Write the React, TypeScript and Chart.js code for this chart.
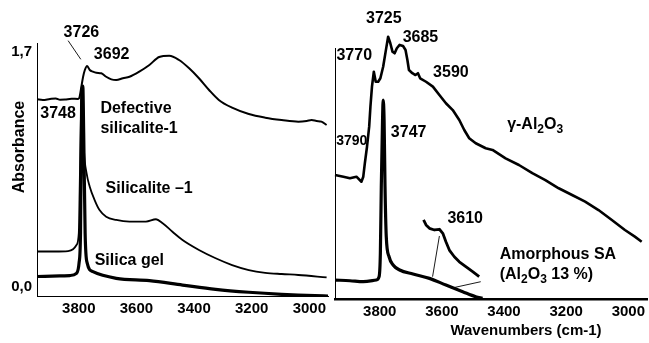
import { useEffect, useRef } from 'react';
import { Chart, registerables } from 'chart.js';

Chart.register(...registerables);

const FONT = '"Liberation Sans", Arial, Helvetica, sans-serif';

// ---------- Left panel data (wavenumber cm-1 / absorbance) ----------
const defectiveWn = [3945, 3925, 3900, 3880, 3865, 3848, 3825, 3802, 3797, 3791, 3785, 3779, 3771, 3762, 3751, 3739, 3722, 3705, 3687, 3670, 3647, 3624, 3590, 3555, 3521, 3486, 3452, 3417, 3383, 3348, 3314, 3268, 3210, 3153, 3096, 3038, 3009, 2992, 2975, 2958, 2940];
const defectiveAbs = [1.358, 1.353, 1.360, 1.364, 1.355, 1.356, 1.362, 1.360, 1.377, 1.449, 1.521, 1.570, 1.599, 1.570, 1.558, 1.550, 1.546, 1.521, 1.502, 1.497, 1.510, 1.521, 1.558, 1.606, 1.664, 1.673, 1.642, 1.582, 1.510, 1.425, 1.353, 1.297, 1.251, 1.225, 1.208, 1.196, 1.201, 1.208, 1.201, 1.196, 1.172];

const silicaliteWn = [3945, 3883, 3837, 3820, 3808, 3800, 3797, 3793, 3790, 3785, 3782, 3773, 3762, 3745, 3728, 3705, 3670, 3624, 3567, 3532, 3509, 3475, 3440, 3383, 3325, 3268, 3210, 3153, 3096, 3038, 2940];
const silicaliteAbs = [0.257, 0.257, 0.260, 0.273, 0.304, 0.388, 0.702, 1.186, 1.400, 1.184, 0.991, 0.823, 0.726, 0.629, 0.557, 0.509, 0.485, 0.473, 0.473, 0.490, 0.461, 0.400, 0.340, 0.268, 0.208, 0.159, 0.123, 0.103, 0.094, 0.087, 0.070];

const silicaGelWn = [3945, 3866, 3831, 3808, 3799, 3794, 3790, 3786, 3783, 3778, 3771, 3751, 3670, 3555, 3440, 3325, 3210, 3096, 2980, 2935];
const silicaGelAbs = [0.076, 0.080, 0.083, 0.099, 0.174, 0.391, 1.353, 1.454, 1.114, 0.391, 0.174, 0.111, 0.063, 0.046, 0.014, -0.017, -0.038, -0.053, -0.063, -0.065];

const leftCalloutWn = [3837, 3793];
const leftCalloutAbs = [1.782, 1.647];

// ---------- Right panel data ----------
const gammaWn = [3944, 3917, 3896, 3875, 3859, 3853, 3848, 3841, 3834, 3830, 3825, 3819, 3813, 3805, 3798, 3789, 3781, 3773, 3766, 3759, 3752, 3745, 3736, 3725, 3717, 3711, 3706, 3695, 3685, 3677, 3670, 3651, 3629, 3608, 3587, 3565, 3544, 3528, 3512, 3491, 3459, 3437, 3395, 3352, 3309, 3267, 3224, 3181, 3139, 3096, 3053, 3011, 2979, 2957];
const gammaAbs = [0.889, 0.877, 0.866, 0.877, 0.841, 0.877, 0.973, 1.092, 1.236, 1.379, 1.523, 1.630, 1.558, 1.558, 1.583, 1.666, 1.774, 1.881, 1.834, 1.774, 1.762, 1.798, 1.822, 1.814, 1.786, 1.714, 1.642, 1.619, 1.606, 1.619, 1.583, 1.558, 1.523, 1.463, 1.404, 1.355, 1.284, 1.212, 1.153, 1.117, 1.081, 1.069, 1.009, 0.961, 0.902, 0.853, 0.794, 0.746, 0.698, 0.638, 0.567, 0.495, 0.447, 0.411];

const amorphousWn = [3944, 3896, 3853, 3811, 3802, 3798, 3795, 3791, 3789, 3786, 3783, 3779, 3770, 3757, 3736, 3693, 3640, 3587, 3533, 3491, 3469];
const amorphousAbs = [0.136, 0.131, 0.124, 0.136, 0.160, 0.328, 0.805, 1.284, 1.427, 1.284, 0.805, 0.447, 0.303, 0.244, 0.208, 0.179, 0.148, 0.100, 0.052, 0.016, 0.005];

const insetWn = [3659, 3651, 3640, 3624, 3608, 3597, 3587, 3576, 3560, 3544, 3523, 3501, 3480];
const insetAbs = [0.567, 0.531, 0.507, 0.495, 0.500, 0.471, 0.411, 0.351, 0.303, 0.267, 0.232, 0.196, 0.160];

const callout1Wn = [3608, 3630];
const callout1Abs = [0.452, 0.160];
const callout2Wn = [3571, 3475];
const callout2Abs = [0.077, 0.124];

// ---------- Ticks ----------
const xTickValues = [3800, 3600, 3400, 3200, 3000];
const leftYTickValues = [0, 1.7];
const leftYTickLabels = ['0,0', '1,7'];

type Part = { t: string; sub?: boolean };
type Label = { parts: Part[]; wn: number; a: number; align: 'left' | 'center'; size: number };

const leftLabels: Label[] = [
  { parts: [{ t: '3726' }], wn: 3791, a: 1.841, align: 'center', size: 16 },
  { parts: [{ t: '3692' }], wn: 3686, a: 1.678, align: 'center', size: 16 },
  { parts: [{ t: '3748' }], wn: 3872, a: 1.251, align: 'center', size: 16 },
  { parts: [{ t: 'Defective' }], wn: 3725, a: 1.288, align: 'left', size: 16 },
  { parts: [{ t: 'silicalite-1' }], wn: 3725, a: 1.145, align: 'left', size: 16 },
  { parts: [{ t: 'Silicalite \u20131' }], wn: 3707, a: 0.709, align: 'left', size: 16 },
  { parts: [{ t: 'Silica gel' }], wn: 3745, a: 0.188, align: 'left', size: 16 },
];

const rightLabels: Label[] = [
  { parts: [{ t: '3725' }], wn: 3787, a: 2.008, align: 'center', size: 16 },
  { parts: [{ t: '3685' }], wn: 3669, a: 1.875, align: 'center', size: 16 },
  { parts: [{ t: '3770' }], wn: 3882, a: 1.746, align: 'center', size: 16 },
  { parts: [{ t: '3590' }], wn: 3571, a: 1.624, align: 'center', size: 16 },
  { parts: [{ t: '3790' }], wn: 3890, a: 1.133, align: 'center', size: 14 },
  { parts: [{ t: '3747' }], wn: 3707, a: 1.190, align: 'center', size: 16 },
  { parts: [{ t: '\u03b3-Al' }, { t: '2', sub: true }, { t: 'O' }, { t: '3', sub: true }], wn: 3390, a: 1.248, align: 'left', size: 16 },
  { parts: [{ t: '3610' }], wn: 3525, a: 0.574, align: 'center', size: 16 },
  { parts: [{ t: 'Amorphous SA' }], wn: 3414, a: 0.316, align: 'left', size: 16 },
  { parts: [{ t: '(Al' }, { t: '2', sub: true }, { t: 'O' }, { t: '3', sub: true }, { t: ' 13 %)' }], wn: 3414, a: 0.172, align: 'left', size: 16 },
];

const pts = (xs: number[], ys: number[]) => xs.map((x, i) => ({ x, y: ys[i] }));

function drawRich(ctx: CanvasRenderingContext2D, parts: Part[], x: number, y: number, align: string, size: number) {
  const mainFont = `bold ${size}px ${FONT}`;
  const subFont = `bold ${Math.round(size * 0.72)}px ${FONT}`;
  let total = 0;
  const widths = parts.map((p) => {
    ctx.font = p.sub ? subFont : mainFont;
    const w = ctx.measureText(p.t).width;
    total += w;
    return w;
  });
  let cx = align === 'center' ? x - total / 2 : x;
  ctx.textAlign = 'left';
  ctx.textBaseline = 'middle';
  parts.forEach((p, i) => {
    ctx.font = p.sub ? subFont : mainFont;
    ctx.fillText(p.t, cx, p.sub ? y + size * 0.3 : y);
    cx += widths[i];
  });
}

function labelPlugin(labels: Label[], extra: (c: Chart) => void) {
  return {
    id: 'labels',
    afterDraw(chart: Chart) {
      const { ctx } = chart;
      const xs = chart.scales.x;
      const ys = chart.scales.y;
      ctx.save();
      ctx.fillStyle = '#000';
      labels.forEach((l) => {
        drawRich(ctx, l.parts, xs.getPixelForValue(l.wn), ys.getPixelForValue(l.a), l.align, l.size);
      });
      extra(chart);
      ctx.restore();
    },
  };
}

const line = (data: any[], width: number, smooth: boolean, extra: any = {}) => ({
  data,
  borderColor: '#000',
  borderWidth: width,
  pointRadius: 0,
  pointHoverRadius: 0,
  fill: false,
  borderJoinStyle: 'round',
  cubicInterpolationMode: smooth ? 'monotone' : 'default',
  tension: 0,
  ...extra,
});

const tickFont = { family: FONT, size: 15, weight: 'bold' as const };

function xScale(min: number, max: number, height: number, borderWidth: number) {
  return {
    type: 'linear',
    reverse: true,
    min,
    max,
    afterBuildTicks: (s: any) => {
      s.ticks = xTickValues.map((v) => ({ value: v }));
    },
    afterFit: (s: any) => {
      s.height = height;
    },
    grid: { display: false, drawTicks: false },
    border: { display: true, color: '#000', width: borderWidth },
    ticks: {
      color: '#000',
      font: tickFont,
      padding: 4,
      maxRotation: 0,
      autoSkip: false,
      callback: (v: any) => String(v),
    },
  };
}

export default function App() {
  const leftRef = useRef<HTMLCanvasElement>(null);
  const rightRef = useRef<HTMLCanvasElement>(null);

  useEffect(() => {
    const left = new Chart(leftRef.current as HTMLCanvasElement, {
      type: 'line',
      data: {
        datasets: [
          line(pts(defectiveWn, defectiveAbs), 2, true),
          line(pts(silicaliteWn, silicaliteAbs), 1.8, true),
          line(pts(silicaGelWn, silicaGelAbs), 3.2, true),
          line(pts(leftCalloutWn, leftCalloutAbs), 0.9, false, { clip: false }),
        ] as any,
      },
      options: {
        animation: false,
        responsive: false,
        devicePixelRatio: 1,
        events: [],
        layout: { padding: { top: 43, left: 0, right: 0, bottom: 0 }, autoPadding: false },
        plugins: { legend: { display: false }, tooltip: { enabled: false } },
        scales: {
          x: xScale(2935, 3945, 47, 1) as any,
          y: {
            type: 'linear',
            min: -0.065,
            max: 1.765,
            afterBuildTicks: (s: any) => {
              s.ticks = leftYTickValues.map((v) => ({ value: v }));
            },
            afterFit: (s: any) => {
              s.width = 37;
            },
            grid: { display: false, drawTicks: false },
            border: { display: true, color: '#000', width: 1 },
            ticks: {
              color: '#000',
              font: tickFont,
              padding: 5,
              callback: (v: any) => leftYTickLabels[leftYTickValues.indexOf(v)] ?? '',
            },
          },
        },
      },
      plugins: [
        labelPlugin(leftLabels, (c) => {
          const ctx = c.ctx;
          ctx.save();
          ctx.translate(20, 147);
          ctx.rotate(-Math.PI / 2);
          ctx.font = `bold 16px ${FONT}`;
          ctx.textAlign = 'center';
          ctx.textBaseline = 'middle';
          ctx.fillText('Absorbance', 0, 0);
          ctx.restore();
        }),
      ] as any,
    });

    const right = new Chart(rightRef.current as HTMLCanvasElement, {
      type: 'line',
      data: {
        datasets: [
          line(pts(gammaWn, gammaAbs), 2.6, false, { clip: false }),
          line(pts(amorphousWn, amorphousAbs), 3.2, true),
          line(pts(insetWn, insetAbs), 2.8, false),
          line(pts(callout1Wn, callout1Abs), 0.9, false),
          line(pts(callout2Wn, callout2Abs), 0.9, false),
        ] as any,
      },
      options: {
        animation: false,
        responsive: false,
        devicePixelRatio: 1,
        events: [],
        layout: { padding: { top: 48, left: 0, right: 0, bottom: 0 }, autoPadding: false },
        plugins: { legend: { display: false }, tooltip: { enabled: false } },
        scales: {
          x: xScale(2939, 3944, 44, 2.5) as any,
          y: {
            type: 'linear',
            min: 0,
            max: 1.8,
            afterFit: (s: any) => {
              s.width = 5;
            },
            grid: { display: false, drawTicks: false },
            border: { display: true, color: '#000', width: 1 },
            ticks: { display: false },
          },
        },
      },
      plugins: [
        labelPlugin(rightLabels, (c) => {
          const ctx = c.ctx;
          ctx.font = `bold 15px ${FONT}`;
          ctx.textAlign = 'center';
          ctx.textBaseline = 'middle';
          ctx.fillText('Wavenumbers (cm-1)', 196, 331);
        }),
      ] as any,
    });

    return () => {
      left.destroy();
      right.destroy();
    };
  }, []);

  return (
    <div style={{ position: 'fixed', left: 0, top: 0, width: 649, height: 343, background: '#fff', overflow: 'hidden' }}>
      <canvas ref={leftRef} width={330} height={343} style={{ position: 'absolute', left: 0, top: 0, width: 330, height: 343 }} />
      <canvas ref={rightRef} width={319} height={343} style={{ position: 'absolute', left: 330, top: 0, width: 319, height: 343 }} />
    </div>
  );
}
